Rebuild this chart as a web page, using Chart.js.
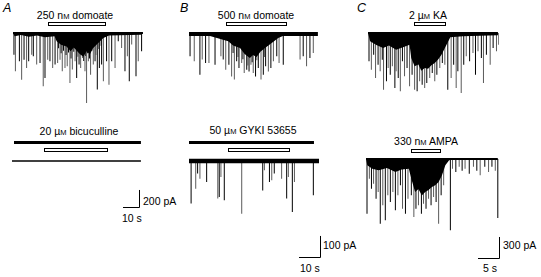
<!DOCTYPE html>
<html>
<head>
<meta charset="utf-8">
<script src="https://cdn.jsdelivr.net/npm/chart.js@4.4.0/dist/chart.umd.min.js"></script>
<style>
	body { margin: 0; width: 541px; height: 277px; position: relative; overflow: hidden; background: #fff; font-family: "Liberation Sans", Arial, sans-serif; color: #000; }
	canvas { position: absolute; }
	.t { position: absolute; font-size: 10.5px; line-height: 1; white-space: nowrap; }
	.c { transform: translateX(-50%); }
	.t small { font-size: 7.5px; }
	.p { position: absolute; font-size: 12.5px; font-style: italic; line-height: 1; }
</style>
</head>
<body>
<div class="p" style="left:3px;top:2px">A</div>
<div class="p" style="left:180px;top:2px">B</div>
<div class="p" style="left:357px;top:2px">C</div>
<div class="t c" style="left:75px;top:10px">250 n<small>M</small> domoate</div>
<div class="t c" style="left:79px;top:126px">20 µ<small>M</small> bicuculline</div>
<div class="t c" style="left:256px;top:10px">500 n<small>M</small> domoate</div>
<div class="t c" style="left:253px;top:125px">50 µ<small>M</small> GYKI 53655</div>
<div class="t c" style="left:428px;top:10px">2 µ<small>M</small> KA</div>
<div class="t c" style="left:426px;top:136px">330 n<small>M</small> AMPA</div>
<div class="t" style="left:143px;top:196px">200 pA</div>
<div class="t" style="left:122px;top:213px">10 s</div>
<div class="t" style="left:323px;top:240px">100 pA</div>
<div class="t" style="left:300px;top:263px">10 s</div>
<div class="t" style="left:503px;top:240px">300 pA</div>
<div class="t" style="left:483px;top:263px">5 s</div>
<script>
// A, 250 nM domoate: event times (s) and amplitudes (pA, inward)
const aTopTime = [0.6, 1.5, 4.0, 5.4, 6.9, 8.5, 9.8, 11.7, 12.7, 14.8, 16.9, 18.9, 20.0, 21.7, 23.1, 24.8, 26.3, 27.9, 28.5, 29.4, 30.1, 30.8, 31.6, 32.5, 33.2, 33.9, 34.7, 35.6, 36.3, 37.1, 38.0, 38.8, 39.8, 40.5, 41.3, 42.3, 42.9, 43.5, 44.2, 45.0, 45.5, 46.0, 46.6, 47.1, 47.8, 48.5, 49.3, 50.2, 51.3, 51.8, 52.7, 53.3, 54.0, 55.0, 55.4, 56.5, 58.5, 60.0, 61.7, 63.8, 65.8, 67.9, 70.0, 71.5, 72.7, 74.2, 76.9, 78.3, 80.4];
const aTopAmp = [255, 451, 333, 549, 314, 412, 333, 255, 274, 372, 353, 627, 529, 314, 333, 412, 372, 353, 180, 314, 240, 451, 210, 412, 260, 392, 230, 588, 300, 431, 220, 333, 529, 280, 372, 412, 250, 294, 330, 451, 270, 823, 240, 333, 300, 490, 210, 372, 333, 260, 666, 190, 412, 150, 372, 568, 333, 608, 333, 412, 98, 176, 451, 274, 568, 137, 510, 333, 216];
const aTopEnvTime = [0, 1, 5, 10, 15, 20, 26, 27.3, 30, 33.5, 36, 38, 41.9, 44, 46, 48.1, 50, 53.3, 56.5, 60, 80, 81];
const aTopEnvAmp = [0, 40, 25, 45, 30, 50, 40, 98, 140, 160, 215, 170, 250, 280, 215, 250, 180, 118, 59, 30, 20, 0];
const aTopDrug = [21.9, 57.5];
const aTopEnd = 81.25;

// A, bicuculline then 250 nM domoate
const aBotEnd = 80.6;
const aBotBicuculline = [1.25, 80.6];
const aBotDrug = [20, 59.4];
const aScaleBar = [69.4, 79.4, -541, -341]; // 10 s, 200 pA

// B, 500 nM domoate
const bTopTime = [0.5, 2.5, 5.2, 6.3, 7.9, 9.5, 12.4, 15.2, 16.3, 17.5, 19.0, 20.3, 21.0, 21.6, 22.7, 23.3, 23.8, 25.1, 25.7, 26.3, 27.5, 28.0, 28.6, 29.5, 30.1, 30.6, 31.7, 32.3, 33.0, 34.3, 35.4, 36.0, 36.5, 37.8, 39.0, 40.2, 41.8, 42.9, 44.9, 52.9, 54.4, 56.0, 57.6, 59.2];
const bTopAmp = [106, 130, 194, 122, 138, 138, 146, 106, 122, 170, 146, 202, 90, 217, 130, 110, 162, 138, 120, 186, 170, 150, 178, 146, 135, 186, 202, 125, 162, 217, 194, 110, 154, 178, 162, 130, 106, 138, 146, 122, 106, 154, 114, 90];
const bTopEnvTime = [0, 10, 18.7, 21, 24.3, 26.5, 29.0, 30.5, 32.2, 34, 36.2, 39.4, 42.5, 45, 61.4];
const bTopEnvAmp = [0, 10, 35, 55, 67, 95, 114, 100, 110, 85, 67, 43, 19, 8, 0];
const bTopDrug = [17.6, 46.2];
const bTopEnd = 61.4;

// B, GYKI 53655 then 500 nM domoate
const bBotTime = [1.0, 3.2, 4.1, 5.2, 8.4, 13.7, 14.4, 15.2, 16.8, 25.1, 35.1, 35.9, 38.3, 39.4, 40.6, 44.1, 46.5, 47.3, 49.2, 50.2, 59.2];
const bBotAmp = [203, 132, 60, 84, 100, 179, 171, 76, 187, 251, 140, 44, 100, 92, 60, 84, 179, 76, 243, 100, 163];
const bBotGyki = [-0.5, 59.5];
const bBotDrug = [18.6, 47.6];
const bBotEnd = 61.9;
const bScaleBar = [52.4, 62.4, -457, -357]; // 10 s, 100 pA

// C, 2 uM KA
const cTopTime = [0.24, 0.8, 1.35, 1.8, 2.4, 2.9, 3.4, 3.7, 4.4, 4.8, 5.3, 5.8, 6.4, 6.7, 7.2, 7.7, 8.2, 8.7, 9.3, 9.9, 10.5, 11.1, 11.7, 12.3, 12.9, 13.5, 14.0, 14.7, 15.3, 15.9, 16.4, 17.1, 17.7, 18.3, 19.0, 19.8, 20.4, 21.0, 21.4, 22.2, 22.8, 23.4, 24.2, 25.0, 25.6, 26.2, 27.0, 27.5, 28.2, 29.1, 29.8, 30.6, 31.2];
const cTopAmp = [405, 524, 310, 643, 452, 548, 381, 810, 690, 500, 595, 476, 786, 548, 643, 833, 405, 619, 500, 762, 595, 810, 833, 690, 738, 786, 714, 643, 571, 690, 595, 500, 429, 452, 810, 643, 452, 786, 548, 857, 452, 333, 405, 286, 595, 262, 357, 714, 310, 452, 214, 262, 167];
const cTopEnvTime = [0, 0.5, 2, 3.6, 5, 6.7, 8.5, 9.9, 10.3, 11.1, 12.0, 12.7, 13.5, 14.3, 15.1, 15.9, 16.7, 17.5, 18.7, 19.6, 22.6, 30.8, 30.95];
const cTopEnvAmp = [0, 119, 170, 214, 180, 238, 200, 167, 357, 476, 450, 540, 500, 510, 460, 429, 380, 310, 167, 62, 48, 33, 0];
const cTopDrug = [10.95, 18.3];
const cTopEnd = 30.95;

// C, 330 nM AMPA
const cBotTime = [0.24, 0.8, 1.3, 1.8, 2.4, 2.9, 3.4, 4.0, 4.6, 5.2, 5.8, 6.4, 7.0, 7.6, 8.2, 8.7, 9.4, 10.0, 10.8, 11.4, 11.9, 12.5, 13.2, 13.7, 14.3, 14.9, 15.5, 16.1, 16.7, 17.3, 17.9, 18.5, 20.1, 20.6, 21.4, 22.2, 22.9, 23.6, 24.6, 25.6, 26.4, 27.2, 28.3, 29.2, 30.0, 30.8, 31.4];
const cBotAmp = [781, 281, 424, 352, 567, 471, 924, 662, 876, 519, 614, 471, 733, 519, 376, 710, 781, 567, 519, 829, 710, 662, 781, 638, 710, 567, 662, 543, 614, 924, 519, 376, 1019, 138, 186, 110, 167, 138, 210, 110, 167, 233, 110, 186, 110, 167, 843];
const cBotEnvTime = [0, 0.3, 1.5, 3.0, 5, 7.0, 8.5, 10.2, 10.8, 11.7, 12.5, 13.3, 14.1, 14.9, 15.7, 16.5, 17.3, 18.1, 18.9, 19.8, 21, 31.4];
const cBotEnvAmp = [0, 90, 140, 162, 130, 186, 150, 138, 281, 471, 430, 520, 470, 443, 400, 376, 330, 233, 90, 19, 10, 0];
const cBotDrug = [10.7, 17.6];
const cBotEnd = 31.4;
const cScaleBar = [26.7, 31.7, -1414, -1114]; // 5 s, 300 pA

const marks = {
	id: "marks",
	afterDraw(chart, args, o) {
		const { ctx, chartArea: a, scales: { x, y } } = chart;
		ctx.save();
		ctx.fillStyle = "#000";
		ctx.strokeStyle = "#000";
		ctx.lineWidth = 1;
		if (o.solid) {
			const x0 = x.getPixelForValue(o.solid[0]);
			const x1 = x.getPixelForValue(o.solid[1]);
			ctx.fillRect(x0, a.top + o.solidAt, x1 - x0, 3);
		}
		if (o.drug) {
			const x0 = Math.round(x.getPixelForValue(o.drug[0])) + 0.5;
			const x1 = Math.round(x.getPixelForValue(o.drug[1])) + 0.5;
			ctx.strokeRect(x0, a.top + o.drugAt + 0.5, x1 - x0, 3);
		}
		if (o.scaleBar) {
			const [t0, t1, p0, p1] = o.scaleBar;
			const xa = Math.round(x.getPixelForValue(t0));
			const xb = Math.round(x.getPixelForValue(t1)) + 0.5;
			const ya = Math.round(y.getPixelForValue(p0)) + 0.5;
			const yb = y.getPixelForValue(p1);
			ctx.beginPath();
			ctx.moveTo(xa, ya);
			ctx.lineTo(xb, ya);
			ctx.lineTo(xb, yb);
			ctx.stroke();
		}
		ctx.restore();
	},
};

function makeTrace(p) {
	const cv = document.createElement("canvas");
	cv.width = p.box[2];
	cv.height = p.box[3];
	cv.style.left = p.box[0] + "px";
	cv.style.top = p.box[1] + "px";
	document.body.appendChild(cv);

	const datasets = [
		{
			type: "line",
			data: [{ x: 0, y: 0 }, { x: p.end, y: 0 }],
			borderColor: "#000",
			borderWidth: p.lineW,
			pointRadius: 0,
		},
	];
	if (p.envT) {
		datasets.push({
			type: "line",
			data: p.envT.map((t, i) => ({ x: t, y: -p.envA[i] })),
			fill: "origin",
			backgroundColor: "#000",
			borderWidth: 0,
			pointRadius: 0,
		});
	}
	if (p.times) {
		datasets.push({
			type: "bar",
			data: p.times.map((t, i) => ({ x: t, y: [-p.amps[i], 0] })),
			backgroundColor: p.times.map((t, i) => (i % 2 ? "#5a5a5a" : "#000")),
			barThickness: 1,
			inflateAmount: 0,
			grouped: false,
		});
	}

	new Chart(cv, {
		type: "bar",
		data: { datasets },
		options: {
			responsive: false,
			animation: false,
			events: [],
			layout: { padding: 0 },
			scales: {
				x: { type: "linear", min: 0, max: p.xMax, offset: false, display: false },
				y: { type: "linear", min: p.yMin, max: p.yMax, display: false },
			},
			plugins: {
				legend: { display: false },
				tooltip: { enabled: false },
				marks: p.marks,
			},
		},
		plugins: [marks],
	});
}

makeTrace({ box: [13, 18, 131, 92], xMax: 81.9, yMin: -906, yMax: 176, end: aTopEnd, lineW: 2,
	times: aTopTime, amps: aTopAmp, envT: aTopEnvTime, envA: aTopEnvAmp,
	marks: { drug: aTopDrug, drugAt: 4 } });

makeTrace({ box: [12, 136, 131, 76], xMax: 81.9, yMin: -600, yMax: 294, end: aBotEnd, lineW: 1.5,
	marks: { solid: aBotBicuculline, solidAt: 5, drug: aBotDrug, drugAt: 12, scaleBar: aScaleBar } });

makeTrace({ box: [189, 18, 131, 70], xMax: 62.4, yMin: -257, yMax: 76, end: bTopEnd, lineW: 4,
	times: bTopTime, amps: bTopAmp, envT: bTopEnvTime, envA: bTopEnvAmp,
	marks: { drug: bTopDrug, drugAt: 4 } });

makeTrace({ box: [189, 136, 134, 126], xMax: 63.8, yMin: -481, yMax: 119, end: bBotEnd, lineW: 4.5,
	times: bBotTime, amps: bBotAmp,
	marks: { solid: bBotGyki, solidAt: 5, drug: bBotDrug, drugAt: 12, scaleBar: bScaleBar } });

makeTrace({ box: [368, 18, 131, 82], xMax: 31.2, yMin: -957, yMax: 214, end: cTopEnd, lineW: 2,
	times: cTopTime, amps: cTopAmp, envT: cTopEnvTime, envA: cTopEnvAmp,
	marks: { drug: cTopDrug, drugAt: 4 } });

makeTrace({ box: [366, 140, 136, 125], xMax: 32.4, yMin: -1514, yMax: 271, end: cBotEnd, lineW: 2,
	times: cBotTime, amps: cBotAmp, envT: cBotEnvTime, envA: cBotEnvAmp,
	marks: { drug: cBotDrug, drugAt: 9, scaleBar: cScaleBar } });
</script>
</body>
</html>
